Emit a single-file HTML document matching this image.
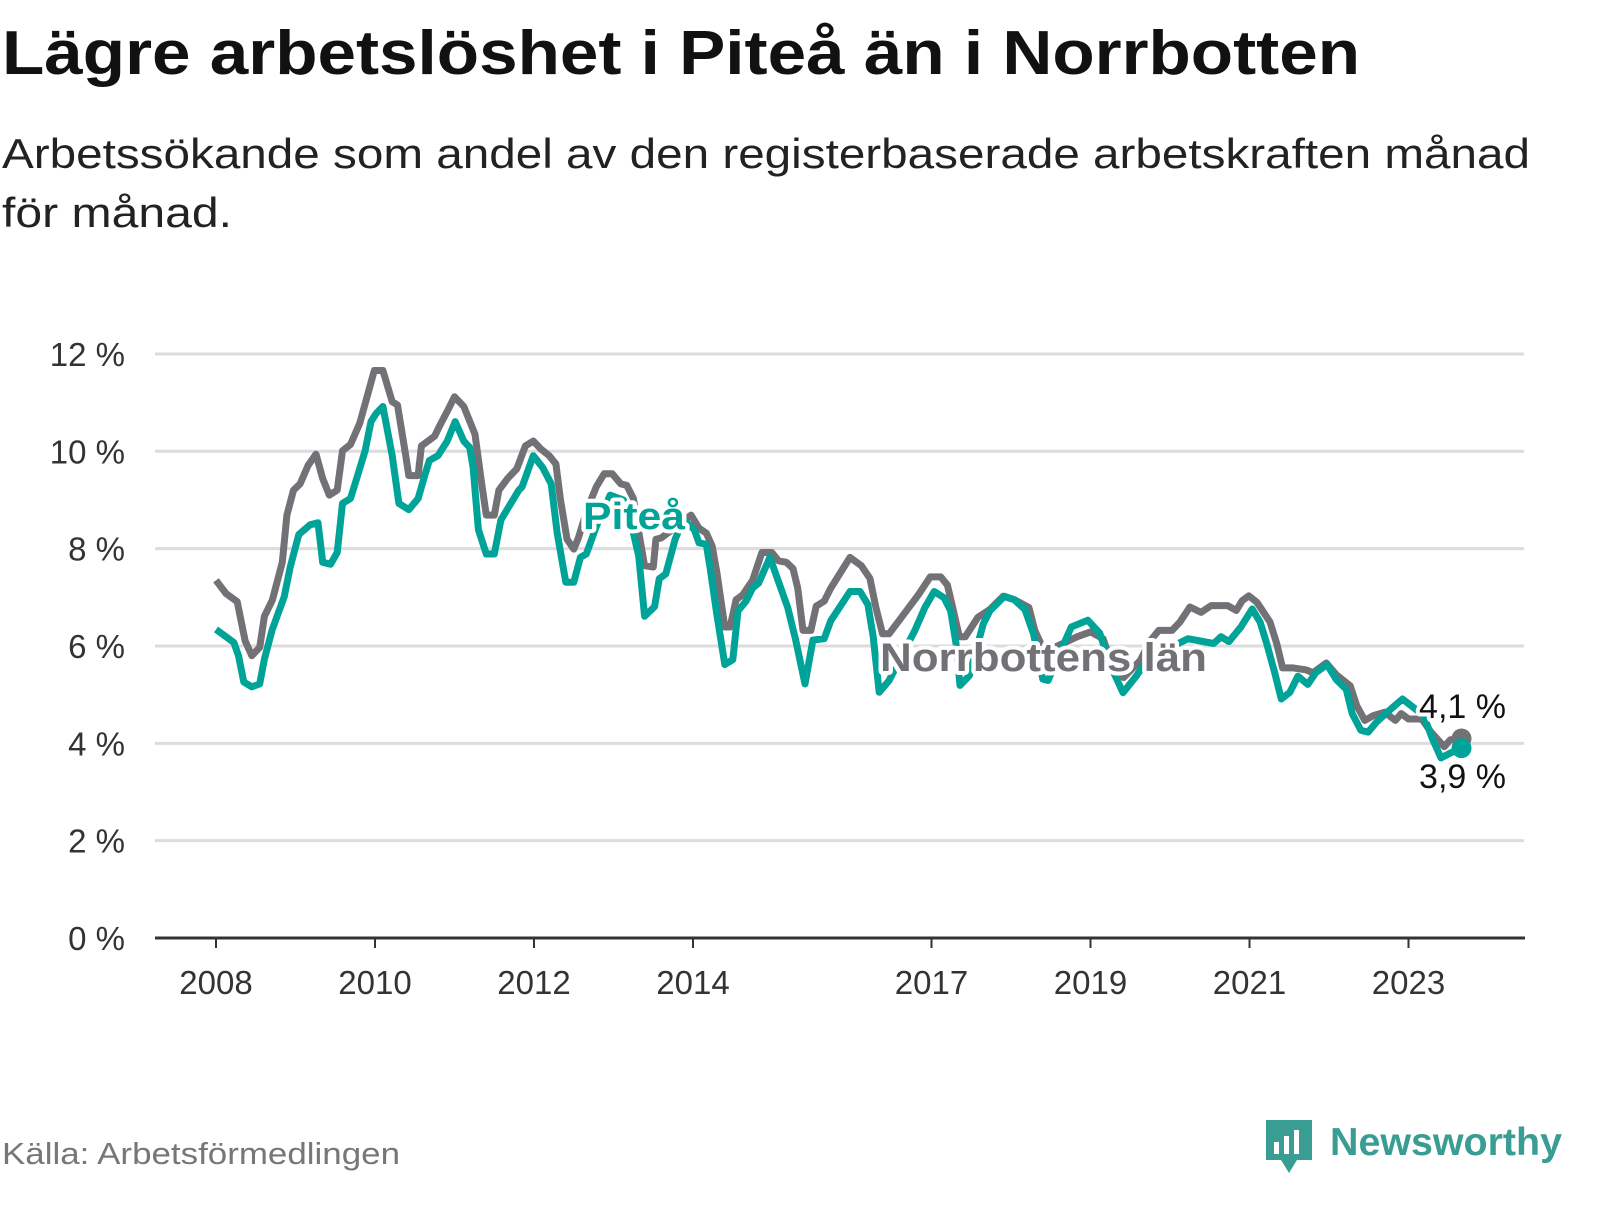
<!DOCTYPE html>
<html><head><meta charset="utf-8">
<style>
html,body{margin:0;padding:0;background:#fff;}
svg text{font-family:"Liberation Sans",sans-serif;}
</style></head>
<body>
<svg id="chart" width="1600" height="1200" viewBox="0 0 1600 1200" xmlns="http://www.w3.org/2000/svg">
<text x="2" y="74" font-size="62" font-weight="bold" fill="#111" textLength="1358" lengthAdjust="spacingAndGlyphs">Lägre arbetslöshet i Piteå än i Norrbotten</text>
<text x="2" y="168" font-size="42" fill="#222" textLength="1528" lengthAdjust="spacingAndGlyphs">Arbetssökande som andel av den registerbaserade arbetskraften månad</text>
<text x="2" y="227" font-size="42" fill="#222" textLength="230" lengthAdjust="spacingAndGlyphs">för månad.</text>
<g id="grid"></g>
<g id="yticks"></g>
<g id="xticks"></g>
<g id="series"></g>
<g id="labels"></g>
<text x="2" y="1164" font-size="31" fill="#777" textLength="398" lengthAdjust="spacingAndGlyphs">Källa: Arbetsförmedlingen</text>
<g>
<path d="M1266 1120 h46 v40 h-15 l-8 13 l-8 -13 h-15 z" fill="#3a9d94"/>
<rect x="1274" y="1142" width="5" height="12" fill="#fff"/>
<rect x="1284" y="1136" width="5" height="18" fill="#fff"/>
<rect x="1294" y="1130" width="5" height="24" fill="#fff"/>
<text x="1330" y="1155" font-size="39" font-weight="bold" fill="#3a9d94" textLength="232" lengthAdjust="spacingAndGlyphs">Newsworthy</text>
</g>
</svg>
<script>
const yTicks=[0,2,4,6,8,10,12];
const yTickLabels=["0 %","2 %","4 %","6 %","8 %","10 %","12 %"];
const xTickYears=[2008,2010,2012,2014,2017,2019,2021,2023];
const norrMonths=[0,1.5,3.2,4.4,5.4,6.6,7.3,8.5,10,10.7,11.7,12.7,13.9,15.1,16.1,17.1,18.3,19.1,20.3,21.7,23,23.9,25.2,26.6,27.4,28.6,29.1,30.5,31,33,33.7,34.9,36,37.4,39.1,40.1,40.8,42,42.7,44,45.4,46.7,47.9,49.1,50.3,51.3,52,53,54,54.7,56,57.4,58.6,59.8,61.1,62,63,64,64.7,66,66.4,67.2,69.5,71.7,72.9,74,74.9,75.6,76.8,77.6,78.5,79.5,81,82.4,83.9,84.9,86.1,87.1,87.8,88.6,89.8,90.6,91.8,92.8,95.7,97.4,98.7,99.6,100.6,101.6,103.1,106,107.8,109.4,110.4,111.1,112.2,113.1,115,116.8,118.8,120.5,122.7,123.6,125,127,130,132,133.9,135.5,137,139.5,141,142.3,144.3,145.5,147,148.7,150.2,152.7,154,154.9,155.9,157.1,157.8,159.1,160.1,161,162.6,164.5,165.6,167.6,169.1,171.2,172.2,173.4,174.7,176.4,178,178.9,180,182,183.4,185.4,186.3,188];
const norrValues=[7.35,7.08,6.91,6.10,5.80,5.97,6.61,6.94,7.72,8.69,9.2,9.33,9.71,9.94,9.44,9.10,9.2,10.01,10.14,10.58,11.22,11.66,11.66,11.02,10.95,9.94,9.5,9.5,10.11,10.31,10.51,10.82,11.12,10.92,10.35,9.33,8.69,8.69,9.2,9.44,9.64,10.11,10.21,10.04,9.91,9.74,9.0,8.19,7.99,8.22,8.8,9.27,9.54,9.54,9.33,9.3,9.03,8.19,7.65,7.62,8.19,8.22,8.45,8.69,8.42,8.32,8.05,7.52,6.39,6.39,6.95,7.05,7.35,7.92,7.92,7.75,7.72,7.59,7.19,6.32,6.32,6.82,6.92,7.19,7.82,7.65,7.39,6.79,6.25,6.25,6.52,7.05,7.42,7.42,7.25,6.85,6.19,6.19,6.59,6.75,7.02,6.95,6.79,6.32,5.9,6.0,6.19,6.29,6.15,5.5,5.35,5.7,6.1,6.32,6.32,6.49,6.8,6.69,6.83,6.83,6.73,6.93,7.03,6.9,6.76,6.49,6.05,5.55,5.55,5.51,5.45,5.65,5.41,5.18,4.77,4.47,4.57,4.64,4.47,4.61,4.5,4.5,4.23,3.93,4.07,4.1];
const piteaMonths=[0,1.7,2.7,3.4,4.2,5.4,6.6,7.3,8.5,10.3,11.2,12.5,14.2,15.4,16.1,17.3,18.3,19.1,20.3,21.3,22.5,23.4,24.2,25.2,26.6,27.6,29.1,30.5,31.5,32.2,33.5,34.9,36.1,37.4,38.3,38.8,39.6,40.8,42,43,45.7,46.2,47.9,49.3,50.6,51.5,52.8,54,55,55.9,56.7,57.4,59.5,61.5,63,63.8,64.7,66.2,66.9,67.9,69.3,70.5,72.2,72.9,74,74.6,75.6,76.8,78,78.8,80,81,81.9,83.6,84.9,86.3,87.5,88.9,90.1,91.8,92.8,95.7,97.2,98.4,99.2,100.1,101.6,103.5,105.5,107,108.4,109.9,110.9,111.7,112.3,113.7,115.8,116.8,119,120.5,122.1,123.4,124.8,125.6,127.5,129.1,131.6,133.4,135,136.9,138.9,141,143,144.5,146.7,150.6,151.7,152.9,154.7,156.4,157.6,158.6,159.8,160.8,162.1,163.3,164.8,166,167.7,169.1,170.6,171.5,172.8,173.9,175.2,176.8,179.1,180.4,182.3,183.6,184.9,186.3,188];
const piteaValues=[6.34,6.17,6.07,5.8,5.26,5.16,5.22,5.73,6.34,7.01,7.62,8.29,8.49,8.53,7.72,7.68,7.92,8.93,9.03,9.47,10.01,10.61,10.78,10.92,9.91,8.93,8.8,9.03,9.5,9.81,9.91,10.21,10.61,10.21,10.08,9.67,8.39,7.89,7.89,8.59,9.2,9.27,9.91,9.67,9.33,8.32,7.31,7.31,7.82,7.89,8.19,8.46,9.1,9.0,8.32,7.85,6.61,6.81,7.38,7.48,8.19,8.6,8.39,8.12,8.09,7.59,6.65,5.62,5.72,6.72,6.92,7.19,7.29,7.82,7.32,6.79,6.12,5.22,6.12,6.15,6.52,7.12,7.12,6.85,6.19,5.05,5.29,5.8,6.32,6.79,7.12,6.99,6.72,6.05,5.19,5.39,6.45,6.72,7.02,6.95,6.75,6.25,5.32,5.29,5.9,6.39,6.53,6.26,5.6,5.04,5.38,5.8,6.0,6.0,6.15,6.05,6.19,6.09,6.39,6.76,6.49,6.05,5.45,4.91,5.05,5.38,5.21,5.45,5.62,5.31,5.11,4.61,4.27,4.23,4.44,4.64,4.91,4.77,4.57,4.1,3.7,3.8,3.9];
const norrLast="4,1 %", piteaLast="3,9 %";

const NS="http://www.w3.org/2000/svg";
const X0=216, PXY=79.5, Y0=938, PPV=48.67;
function xMonth(m){return X0+m*PXY/12;}
function xYear(y){return X0+(y-2008)*PXY;}
function yVal(v){return Y0-v*PPV;}
function mk(tag,attrs,parent){const e=document.createElementNS(NS,tag);for(const k in attrs)e.setAttribute(k,attrs[k]);parent.appendChild(e);return e;}

const grid=document.getElementById('grid'), yt=document.getElementById('yticks'), xt=document.getElementById('xticks');
yTicks.forEach((v,i)=>{
  if(v>0){const l=mk('line',{x1:155,x2:1524,y1:yVal(v),y2:yVal(v),stroke:'#dcdcdc','stroke-width':3},grid);
  
  }
  const t=mk('text',{x:125,y:yVal(v)+12,'text-anchor':'end','font-size':33,fill:'#333'},yt);
  
  
  t.textContent=yTickLabels[i];
});
const ax=mk('line',{x1:155,x2:1525,y1:Y0,y2:Y0,stroke:'#333','stroke-width':3},xt);


xTickYears.forEach(y=>{
  const tk=mk('line',{x1:xYear(y),x2:xYear(y),y1:Y0,y2:Y0+10,stroke:'#333','stroke-width':2},xt);
  
  
  const t=mk('text',{x:xYear(y),y:994,'text-anchor':'middle','font-size':33,fill:'#333'},xt);
  
  
  t.textContent=y;
});
const sg=document.getElementById('series');
function drawLine(ms,vs,color,name){
  const d=ms.map((m,i)=>(i?'L':'M')+xMonth(m).toFixed(1)+' '+yVal(vs[i]).toFixed(1)).join(' ');
  const p=mk('path',{d:d,fill:'none',stroke:color,'stroke-width':7,'stroke-linejoin':'round'},sg);
  
  
  const c=mk('circle',{cx:xMonth(ms[ms.length-1]),cy:yVal(vs[vs.length-1]),r:10,fill:color},sg);
  
  
}
drawLine(norrMonths,norrValues,'#717176','norrbotten-line');
drawLine(piteaMonths,piteaValues,'#00a398','pitea-line');
const lg=document.getElementById('labels');
function lab(x,y,txt,color,size,name,bold,anchor,len){
  const a={x:x,y:y,'font-size':size,fill:color,'font-weight':bold?'bold':'normal','text-anchor':anchor||'start',stroke:'#fff','stroke-width':8,'paint-order':'stroke','stroke-linejoin':'round'};
  if(len){a.textLength=len;a.lengthAdjust='spacingAndGlyphs';}
  const t=mk('text',a,lg);
  
  
  t.textContent=txt;
}
lab(583,529,'Piteå','#00a398',38,'pitea-series-label',true,'start',102);
lab(880,671,'Norrbottens län','#717176',40,'norrbotten-series-label',true,'start',327);
lab(1506,718,norrLast,'#111',34,'norrbotten-last-value',false,'end');
lab(1506,788,piteaLast,'#111',34,'pitea-last-value',false,'end');
</script>
</body></html>
